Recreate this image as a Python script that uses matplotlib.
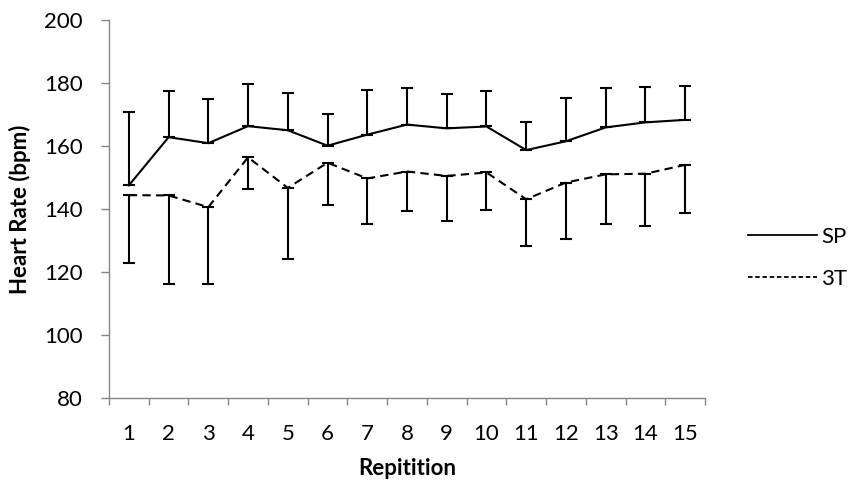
import matplotlib
matplotlib.use("Agg")
import matplotlib.pyplot as plt
from matplotlib.ticker import FixedLocator, NullFormatter, FixedFormatter

plt.rcParams['font.family'] = ['Lato', 'DejaVu Sans']

reps = list(range(1, 16))
sp_mean = [147.5, 162.8, 160.9, 166.3, 165.0, 160.1, 163.6, 166.8, 165.6, 166.2, 158.7, 161.5, 165.9, 167.5, 168.3]
sp_upper = [170.7, 177.6, 175.0, 179.8, 176.7, 170.1, 177.8, 178.4, 176.6, 177.4, 167.6, 175.3, 178.5, 178.8, 178.9]
t3_mean = [144.4, 144.3, 140.6, 156.4, 146.7, 154.7, 149.7, 151.9, 150.5, 151.6, 143.1, 148.4, 151.0, 151.2, 154.0]
t3_lower = [122.9, 116.1, 116.1, 146.3, 124.0, 141.3, 135.2, 139.5, 136.3, 139.7, 128.4, 130.5, 135.2, 134.6, 138.6]

FS = 16

fig = plt.figure(figsize=(8.51, 4.90), dpi=100)
ax = fig.add_axes([109/851, 1-398/490, (705-109)/851, (398-20)/490])

sp_err = [[0]*15, [u - m for u, m in zip(sp_upper, sp_mean)]]
t3_err = [[m - l for m, l in zip(t3_mean, t3_lower)], [0]*15]

ax.errorbar(reps, sp_mean, yerr=sp_err, color='black', lw=1.5, elinewidth=1.5,
            capsize=4.5, capthick=1.5, label='SP')
ax.errorbar(reps, t3_mean, yerr=t3_err, color='black', lw=1.5, elinewidth=1.5,
            capsize=4.5, capthick=1.5, linestyle=(0, (4, 2.5)), label='3T')

ax.set_xlim(0.5, 15.5)
ax.set_ylim(80, 200)
ax.set_yticks([80, 100, 120, 140, 160, 180, 200])

ax.xaxis.set_major_locator(FixedLocator([i + 0.5 for i in range(0, 16)]))
ax.xaxis.set_major_formatter(NullFormatter())
ax.xaxis.set_minor_locator(FixedLocator(reps))
ax.xaxis.set_minor_formatter(FixedFormatter([str(r) for r in reps]))
ax.tick_params(axis='x', which='minor', length=0, labelsize=FS, pad=19)
ax.tick_params(axis='x', which='major', length=5, color='#868686', width=1)
ax.tick_params(axis='y', length=6, color='#868686', width=1, labelsize=FS, pad=13)

for s in ['top', 'right']:
    ax.spines[s].set_visible(False)
for s in ['left', 'bottom']:
    ax.spines[s].set_color('#868686')
    ax.spines[s].set_linewidth(1)

ax.set_xlabel('Repitition', fontsize=FS, fontweight='bold', labelpad=10)
ax.set_ylabel('Heart Rate (bpm)', fontsize=FS, fontweight='bold', labelpad=9)

handles = [plt.Line2D([], [], color='black', lw=1.3),
           plt.Line2D([], [], color='black', lw=1.3, linestyle=(0, (2.5, 1.5)))]
fig.legend(handles, ['SP', '3T'], loc='center left', bbox_to_anchor=(739/851, 1-258/490),
           frameon=False, fontsize=FS, handlelength=3.1, labelspacing=1.0, handletextpad=0.2,
           borderaxespad=0, borderpad=0.4)

fig.savefig('out.png', dpi=100)
